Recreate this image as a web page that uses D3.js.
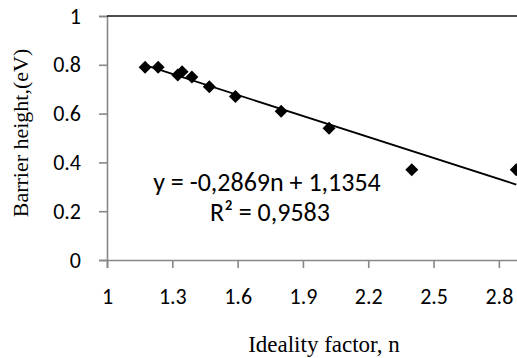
<!DOCTYPE html>
<html>
<head>
<meta charset="utf-8">
<script src="https://cdn.jsdelivr.net/npm/d3@7"></script>
<style>
  html, body { margin: 0; padding: 0; background: #fff; }
  svg { display: block; }
</style>
</head>
<body>
<svg id="chart" width="517" height="358"></svg>
<script>
// Ideality factor n vs barrier height (eV)
const idealityFactor = [1.175, 1.235, 1.325, 1.345, 1.39, 1.47, 1.59, 1.80, 2.02, 2.40, 2.88];
const barrierHeight  = [0.790, 0.790, 0.758, 0.772, 0.750, 0.710, 0.670, 0.610, 0.540, 0.370, 0.370];
const xTicks = [1, 1.3, 1.6, 1.9, 2.2, 2.5, 2.8];
const yTicks = [0, 0.2, 0.4, 0.6, 0.8, 1];
const fitSlope = -0.2869;
const fitIntercept = 1.1354;
const fitR2 = 0.9583;

const svg = d3.select("#chart");
const plotLeft = 107, plotTop = 16, plotBottom = 260;

const x = d3.scaleLinear().domain([1, 3.1]).range([plotLeft, plotLeft + 217.7 * 2.1]);
const y = d3.scaleLinear().domain([0, 1]).range([plotBottom, plotTop]);

const calibri = "Carlito, Calibri, Lato, sans-serif";
const times = "'Liberation Serif', 'Times New Roman', serif";
const fmtComma = v => String(v).replace(".", ",");

// y axis
const yAxis = svg.append("g")
  .attr("transform", `translate(${plotLeft},0)`)
  .call(d3.axisLeft(y).tickValues(yTicks).tickSize(8).tickPadding(18)
    .tickFormat(d => d === 0 || d === 1 ? d3.format("d")(d) : d3.format(".1f")(d)));
yAxis.select(".domain").attr("stroke", "#878787").attr("stroke-width", 1.6);
yAxis.selectAll(".tick line").attr("stroke", "#878787").attr("stroke-width", 1.6);
yAxis.selectAll(".tick text").attr("fill", "#000")
  .style("font-family", calibri).style("font-size", "22px");

// x axis
const xAxis = svg.append("g")
  .attr("transform", `translate(0,${plotBottom})`)
  .call(d3.axisBottom(x).tickValues(xTicks).tickSize(8).tickPadding(20)
    .tickFormat(d => d === 1 ? "1" : d3.format(".1f")(d)));
xAxis.select(".domain").attr("stroke", "#878787").attr("stroke-width", 1.6);
xAxis.selectAll(".tick line").attr("stroke", "#878787").attr("stroke-width", 1.6);
xAxis.selectAll(".tick text").attr("fill", "#000")
  .style("font-family", calibri).style("font-size", "22px");

// top border of the plot area
svg.append("line")
  .attr("x1", plotLeft).attr("x2", x(3.1))
  .attr("y1", y(1)).attr("y2", y(1))
  .attr("stroke", "#111").attr("stroke-width", 1.6);

// linear trendline over the data range
const xMin = d3.min(idealityFactor), xMax = d3.max(idealityFactor);
svg.append("line")
  .attr("x1", x(xMin)).attr("y1", y(fitSlope * xMin + fitIntercept))
  .attr("x2", x(xMax)).attr("y2", y(fitSlope * xMax + fitIntercept))
  .attr("stroke", "#000").attr("stroke-width", 1.8);

// diamond markers
const diamond = d3.symbol(d3.symbolSquare, 84);
svg.append("g").selectAll("path")
  .data(idealityFactor.map((n, i) => [n, barrierHeight[i]]))
  .join("path")
  .attr("d", diamond)
  .attr("transform", d => `translate(${x(d[0])},${y(d[1])}) rotate(45)`)
  .attr("fill", "#000");

// trendline equation
const eq = svg.append("text")
  .attr("text-anchor", "middle")
  .style("font-family", calibri).style("font-size", "26px").attr("fill", "#000");
eq.append("tspan").attr("x", 267).attr("y", 191)
  .text(`y = ${fmtComma(fitSlope)}n + ${fmtComma(fitIntercept)}`);
eq.append("tspan").attr("x", 270).attr("y", 221)
  .text(`R² = ${fmtComma(fitR2)}`);

// axis titles
svg.append("text")
  .attr("x", 324).attr("y", 352).attr("text-anchor", "middle")
  .style("font-family", times).style("font-size", "23px").attr("fill", "#000")
  .text("Ideality factor, n");

svg.append("text")
  .attr("transform", "translate(28,133) rotate(-90)").attr("text-anchor", "middle")
  .style("font-family", times).style("font-size", "22px").attr("fill", "#000")
  .text("Barrier height,(eV)");
</script>
</body>
</html>
